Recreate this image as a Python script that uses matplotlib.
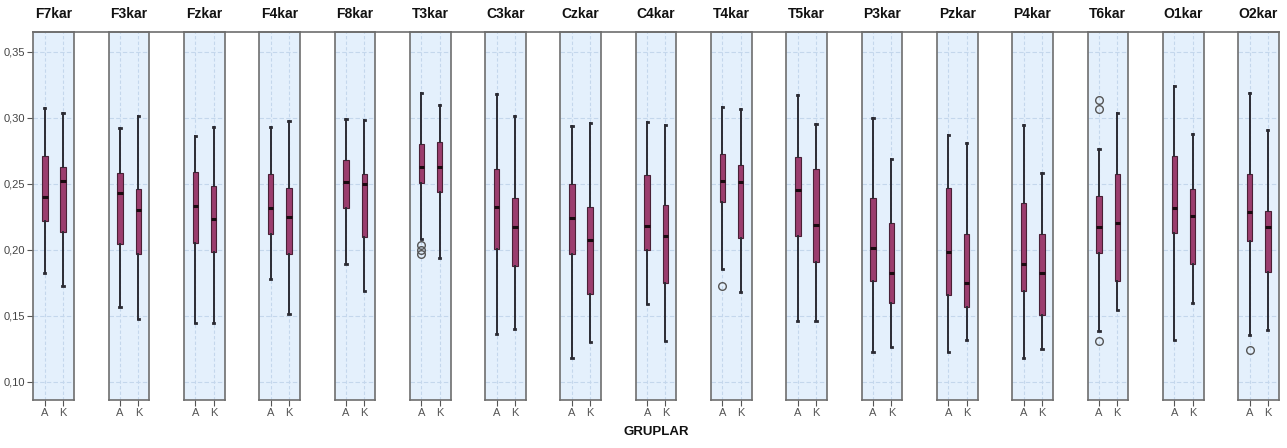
import matplotlib
matplotlib.use("Agg")
import matplotlib.pyplot as plt
from matplotlib.lines import Line2D

plt.rcParams['font.family'] = ['Liberation Sans', 'DejaVu Sans']

channels = ["F7kar", "F3kar", "Fzkar", "F4kar", "F8kar", "T3kar", "C3kar", "Czkar", "C4kar",
            "T4kar", "T5kar", "P3kar", "Pzkar", "P4kar", "T6kar", "O1kar", "O2kar"]
groups = ["A", "K"]

# Group A statistics
whislo_A = [0.1825, 0.1567, 0.1441, 0.1777, 0.1895, 0.2082, 0.1359, 0.1177, 0.1586,
            0.1855, 0.1460, 0.1228, 0.1222, 0.1183, 0.1382, 0.1312, 0.1354]
q1_A     = [0.2215, 0.2046, 0.2051, 0.2122, 0.2313, 0.2504, 0.2003, 0.1971, 0.1998,
            0.2361, 0.2104, 0.1759, 0.1659, 0.1689, 0.1976, 0.2129, 0.2069]
med_A    = [0.2399, 0.2431, 0.2331, 0.2318, 0.2509, 0.2630, 0.2323, 0.2238, 0.2177,
            0.2524, 0.2449, 0.2016, 0.1981, 0.1893, 0.2172, 0.2316, 0.2285]
q3_A     = [0.2708, 0.2582, 0.2587, 0.2572, 0.2683, 0.2799, 0.2612, 0.2499, 0.2565,
            0.2728, 0.2703, 0.2389, 0.2469, 0.2353, 0.2406, 0.2713, 0.2572]
whishi_A = [0.3070, 0.2919, 0.2864, 0.2932, 0.2990, 0.3184, 0.3179, 0.2940, 0.2965,
            0.3078, 0.3171, 0.2995, 0.2869, 0.2947, 0.2763, 0.3240, 0.3184]
fliers_A = [[], [], [], [], [], [0.2034, 0.1996, 0.1966], [], [], [],
            [0.1722], [], [], [], [], [0.3133, 0.3065, 0.1306], [], [0.1241]]

# Group K statistics
whislo_K = [0.1727, 0.1474, 0.1446, 0.1510, 0.1689, 0.1936, 0.1401, 0.1299, 0.1308,
            0.1676, 0.1462, 0.1266, 0.1314, 0.1245, 0.1543, 0.1593, 0.1395]
q1_K     = [0.2134, 0.1971, 0.1981, 0.1966, 0.2094, 0.2436, 0.1875, 0.1664, 0.1745,
            0.2092, 0.1903, 0.1593, 0.1563, 0.1508, 0.1764, 0.1890, 0.1832]
med_K    = [0.2524, 0.2303, 0.2235, 0.2248, 0.2497, 0.2625, 0.2170, 0.2073, 0.2107,
            0.2512, 0.2190, 0.1825, 0.1744, 0.1820, 0.2205, 0.2255, 0.2172]
q3_K     = [0.2628, 0.2459, 0.2482, 0.2469, 0.2572, 0.2814, 0.2394, 0.2326, 0.2338,
            0.2643, 0.2612, 0.2200, 0.2117, 0.2122, 0.2572, 0.2461, 0.2295]
whishi_K = [0.3033, 0.3013, 0.2927, 0.2977, 0.2985, 0.3098, 0.3015, 0.2960, 0.2947,
            0.3065, 0.2950, 0.2690, 0.2806, 0.2582, 0.3033, 0.2874, 0.2907]
fliers_K = [[] for _ in channels]

yticks = [0.10, 0.15, 0.20, 0.25, 0.30, 0.35]
ytick_labels = ["0,10", "0,15", "0,20", "0,25", "0,30", "0,35"]

W, H = 1287, 448
fig = plt.figure(figsize=(W / 100, H / 100), dpi=100)

top_px, bot_px = 32.3, 400.0
left0, pitch, pw = 33.3, 75.3, 40.7
bg = "#E4F0FC"
grid_c = "#C4D7EC"
box_c = "#9B3D6E"
frame_c = "#6E6E6E"

for i, ch in enumerate(channels):
    ax = fig.add_axes([(left0 + pitch * i) / W, 1 - bot_px / H, pw / W, (bot_px - top_px) / H])
    ax.set_facecolor(bg)
    stats = [
        dict(med=med_A[i], q1=q1_A[i], q3=q3_A[i], whislo=whislo_A[i], whishi=whishi_A[i],
             fliers=fliers_A[i], label=groups[0]),
        dict(med=med_K[i], q1=q1_K[i], q3=q3_K[i], whislo=whislo_K[i], whishi=whishi_K[i],
             fliers=fliers_K[i], label=groups[1]),
    ]
    ax.bxp(stats, positions=[1, 2], widths=0.3, patch_artist=True,
           boxprops=dict(facecolor=box_c, edgecolor="#4A2036", linewidth=0.8),
           medianprops=dict(color="#1A0A10", linewidth=2.2, solid_capstyle="butt"),
           whiskerprops=dict(color="#2B2B33", linewidth=1.4),
           capprops=dict(color="#2B2B33", linewidth=2.0),
           capwidths=0.07,
           flierprops=dict(marker="o", markerfacecolor="none", markeredgecolor="#555555",
                           markersize=5.5, markeredgewidth=1.0))
    ax.set_xlim(0.37, 2.6)
    ax.set_ylim(0.0861, 0.3647)
    ax.set_yticks(yticks)
    for y in yticks:
        ax.axhline(y, color=grid_c, linewidth=0.8, linestyle=(0, (4, 2)), zorder=0.5)
    for x in (1, 2):
        ax.axvline(x, color=grid_c, linewidth=0.8, linestyle=(0, (3, 2)), zorder=0.5)
    ax.set_xticks([1, 2])
    ax.set_xticklabels(groups, fontsize=8, color="#555555")
    ax.tick_params(axis="x", length=4, color="#555555", pad=2)
    if i == 0:
        ax.set_yticklabels(ytick_labels, fontsize=8, color="#444444")
        ax.tick_params(axis="y", length=4, color="#555555", pad=2)
    else:
        ax.set_yticklabels([])
        ax.tick_params(axis="y", length=0)
    for s in ax.spines.values():
        s.set_color(frame_c)
        s.set_linewidth(1.2)
    ax.set_title(ch, fontsize=10, fontweight="bold", pad=10, color="#111111")

# top line joining the panels
fig.add_artist(Line2D([left0 / W, (left0 + pitch * 16 + pw) / W], [1 - top_px / H, 1 - top_px / H],
                      color=frame_c, linewidth=1.2))

fig.text((left0 + (pitch * 16 + pw) / 2) / W, 1 - 432 / H, "GRUPLAR", ha="center", va="center",
         fontsize=9.5, fontweight="bold", color="#111111")

fig.savefig("out.png", dpi=100, facecolor="white")
